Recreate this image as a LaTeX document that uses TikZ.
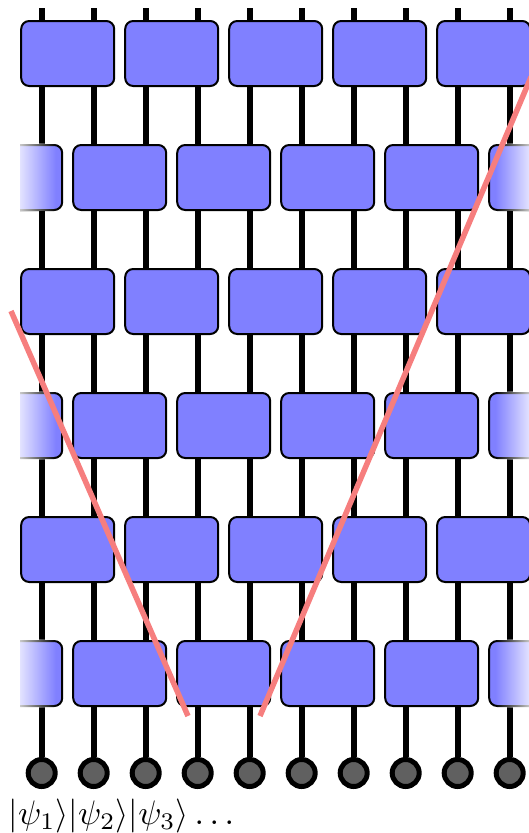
\documentclass[tikz,border=0pt]{standalone}
\usetikzlibrary{fadings}
\definecolor{gateblue}{RGB}{128,128,255}
\definecolor{cutred}{RGB}{246,126,126}
\definecolor{sitegray}{RGB}{96,96,96}
\begin{document}
\begin{tikzpicture}[x=1pt,y=-1pt,
  gate/.style={draw=black, line width=2pt, fill=gateblue, rounded corners=8pt, minimum width=93pt, minimum height=65pt, inner sep=0pt, outer sep=0pt},
  wire/.style={line width=6pt},
  site/.style={circle, draw=black, line width=5pt, fill=sitegray, minimum size=27pt, inner sep=0pt},
  cut/.style={draw=cutred, line width=5.5pt}]
\useasboundingbox (0,0) rectangle (529,833);
% sites and wires
\foreach \i in {0,...,9} {
  \coordinate (t\i) at ({41.7+52*\i},8);
  \node[site] (c\i) at ({41.7+52*\i},773) {};
  \draw[wire] (t\i) -- (c\i.north);
}
% full-width rows of gates
\foreach \r in {0,2,4} {
  \foreach \k in {0,...,4} {
    \node[gate] (g\r-\k) at ({67.7+104*\k},{53.5+124*\r}) {};
  }
}
\foreach \r in {1,3,5} {
  \foreach \k in {0,...,3} {
    \node[gate] (g\r-\k) at ({119.7+104*\k},{53.5+124*\r}) {};
  }
  \begin{scope}
    \clip (20,0) rectangle (529,833);
    \node[gate] (gL\r) at (15.7,{53.5+124*\r}) {};
  \end{scope}
  \node[gate] (gR\r) at (535.7,{53.5+124*\r}) {};
  \fill[white, path fading=east] (10,{53.5+124*\r-34}) rectangle (56,{53.5+124*\r+34});
  \fill[white, path fading=west] (495,{53.5+124*\r-34}) rectangle (539,{53.5+124*\r+34});
}
% light cone cuts
\coordinate (la) at (11,311);
\coordinate (lb) at (188,716);
\coordinate (ra) at (260,716);
\coordinate (rb) at (531,77);
\draw[cut] (la) -- (lb);
\draw[cut] (ra) -- (rb);
% label
\node[anchor=base west, scale=3.4, inner sep=0pt] (lbl) at (8,824) {$|\psi_1\rangle|\psi_2\rangle|\psi_3\rangle\dots$};
\end{tikzpicture}
\end{document}
